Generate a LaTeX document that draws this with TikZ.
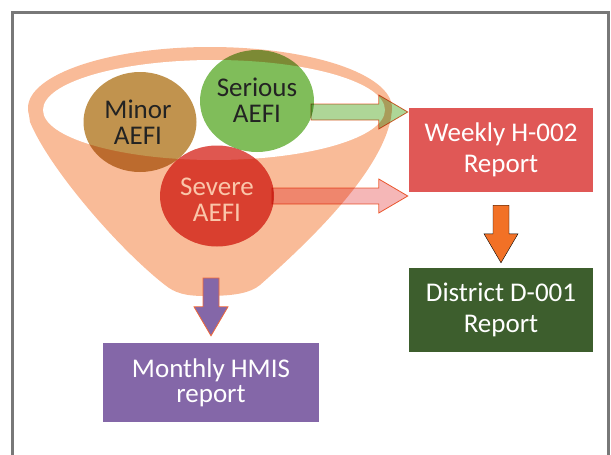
\documentclass[tikz,border=0pt]{standalone}
\usepackage{fontspec}
\setmainfont{Carlito}
\usetikzlibrary{shapes.geometric,calc}
\definecolor{funnelC}{RGB}{249,187,152}
\definecolor{minorC}{RGB}{193,147,78}
\definecolor{seriousC}{RGB}{128,189,90}
\definecolor{severeC}{RGB}{223,87,80}
\definecolor{severeT}{RGB}{250,198,170}
\definecolor{darkT}{RGB}{35,35,35}
\definecolor{greenA}{RGB}{174,214,151}
\definecolor{pinkA}{RGB}{245,183,183}
\definecolor{edgeC}{RGB}{240,104,56}
\definecolor{weeklyC}{RGB}{224,88,86}
\definecolor{districtC}{RGB}{61,94,45}
\definecolor{monthlyC}{RGB}{132,103,168}
\definecolor{orangeA}{RGB}{242,113,38}
\definecolor{frameC}{RGB}{120,120,120}

% block arrows: style, tail, tip
\newcommand{\harrow}[3]{%
  \draw[#1] ($(#2)+(0,-8)$) -- ($(#3)+(-29,-8)$) -- ($(#3)+(-29,-17)$) -- (#3)
    -- ($(#3)+(-29,17)$) -- ($(#3)+(-29,8)$) -- ($(#2)+(0,8)$) -- cycle;}
\newcommand{\varrow}[3]{%
  \draw[#1] ($(#2)+(-8,0)$) -- ($(#3)+(-8,-29)$) -- ($(#3)+(-17,-29)$) -- (#3)
    -- ($(#3)+(17,-29)$) -- ($(#3)+(8,-29)$) -- ($(#2)+(8,0)$) -- cycle;}

\begin{document}
\begin{tikzpicture}[x=1pt, y=-1pt, line join=miter,
  aefi/.style={ellipse, inner sep=0pt},
  aefitext/.style={align=center, font=\fontsize{27}{26}\selectfont, text=darkT},
  report/.style={rectangle, inner sep=0pt, minimum width=184pt, minimum height=84pt,
    align=center, text=white, font=\fontsize{27}{31}\selectfont},
  fat/.style={line width=0.8pt, draw=edgeC}]
\useasboundingbox (0,0) rectangle (611,455);
% frame
\draw[frameC, line width=3pt] (12.5,460) -- (12.5,12.5) -- (608.5,12.5) -- (608.5,460);
% funnel
\fill[funnelC] (210,108) ellipse (182 and 61);
\fill[funnelC] (28,108) -- (30,122) .. controls (50,170) and (120,250) .. (165,285)
  .. controls (175,293) and (185,296) .. (205,296)
  .. controls (235,296) and (250,293) .. (260,285)
  .. controls (305,245) and (380,175) .. (391,118) -- (392,108) -- cycle;
\fill[white] (214,110) ellipse (171 and 50);
% AEFI circles
\begin{scope}[blend mode=multiply]
  \node[aefi, fill=minorC, minimum width=113pt, minimum height=100pt] (minor) at (140,122) {};
  \node[aefi, fill=seriousC, minimum width=114pt, minimum height=102pt] (serious) at (257,101) {};
  \node[aefi, fill=severeC, minimum width=114pt, minimum height=101pt] (severe) at (217,196) {};
\end{scope}
\node[aefitext] (minorT) at (138,122) {Minor\\AEFI};
\node[aefitext] (seriousT) at (257,100) {Serious\\AEFI};
\node[aefitext, text=severeT] (severeT) at (217,200) {Severe\\AEFI};
% reports
\node[report, fill=weeklyC] (weekly) at (501,150) {Weekly H-002\\Report};
\node[report, fill=districtC] (district) at (501,310) {District D-001\\Report};
\node[report, fill=monthlyC, minimum width=216pt, minimum height=79pt,
  font=\fontsize{27}{25}\selectfont] (monthly) at (211,382.5) {Monthly HMIS\\report};
% arrows
\coordinate (seriousTail) at (311,112);
\coordinate (seriousTip) at ($(weekly.west)+(-1,-38)$);
\coordinate (severeTail) at (272,196);
\coordinate (severeTip) at ($(weekly.west)+(-1,46)$);
\coordinate (monthlyTail) at (211,278);
\coordinate (monthlyTip) at ($(monthly.north)+(0,-7)$);
\coordinate (districtTail) at ($(weekly.south)+(0,13)$);
\coordinate (districtTip) at ($(district.north)+(0,-5)$);
\begin{scope}[blend mode=multiply]
  \harrow{fat, fill=greenA}{seriousTail}{seriousTip}
  \harrow{fat, fill=pinkA}{severeTail}{severeTip}
\end{scope}
\varrow{fat, fill=monthlyC}{monthlyTail}{monthlyTip}
\varrow{fill=orangeA}{districtTail}{districtTip}
\end{tikzpicture}
\end{document}
